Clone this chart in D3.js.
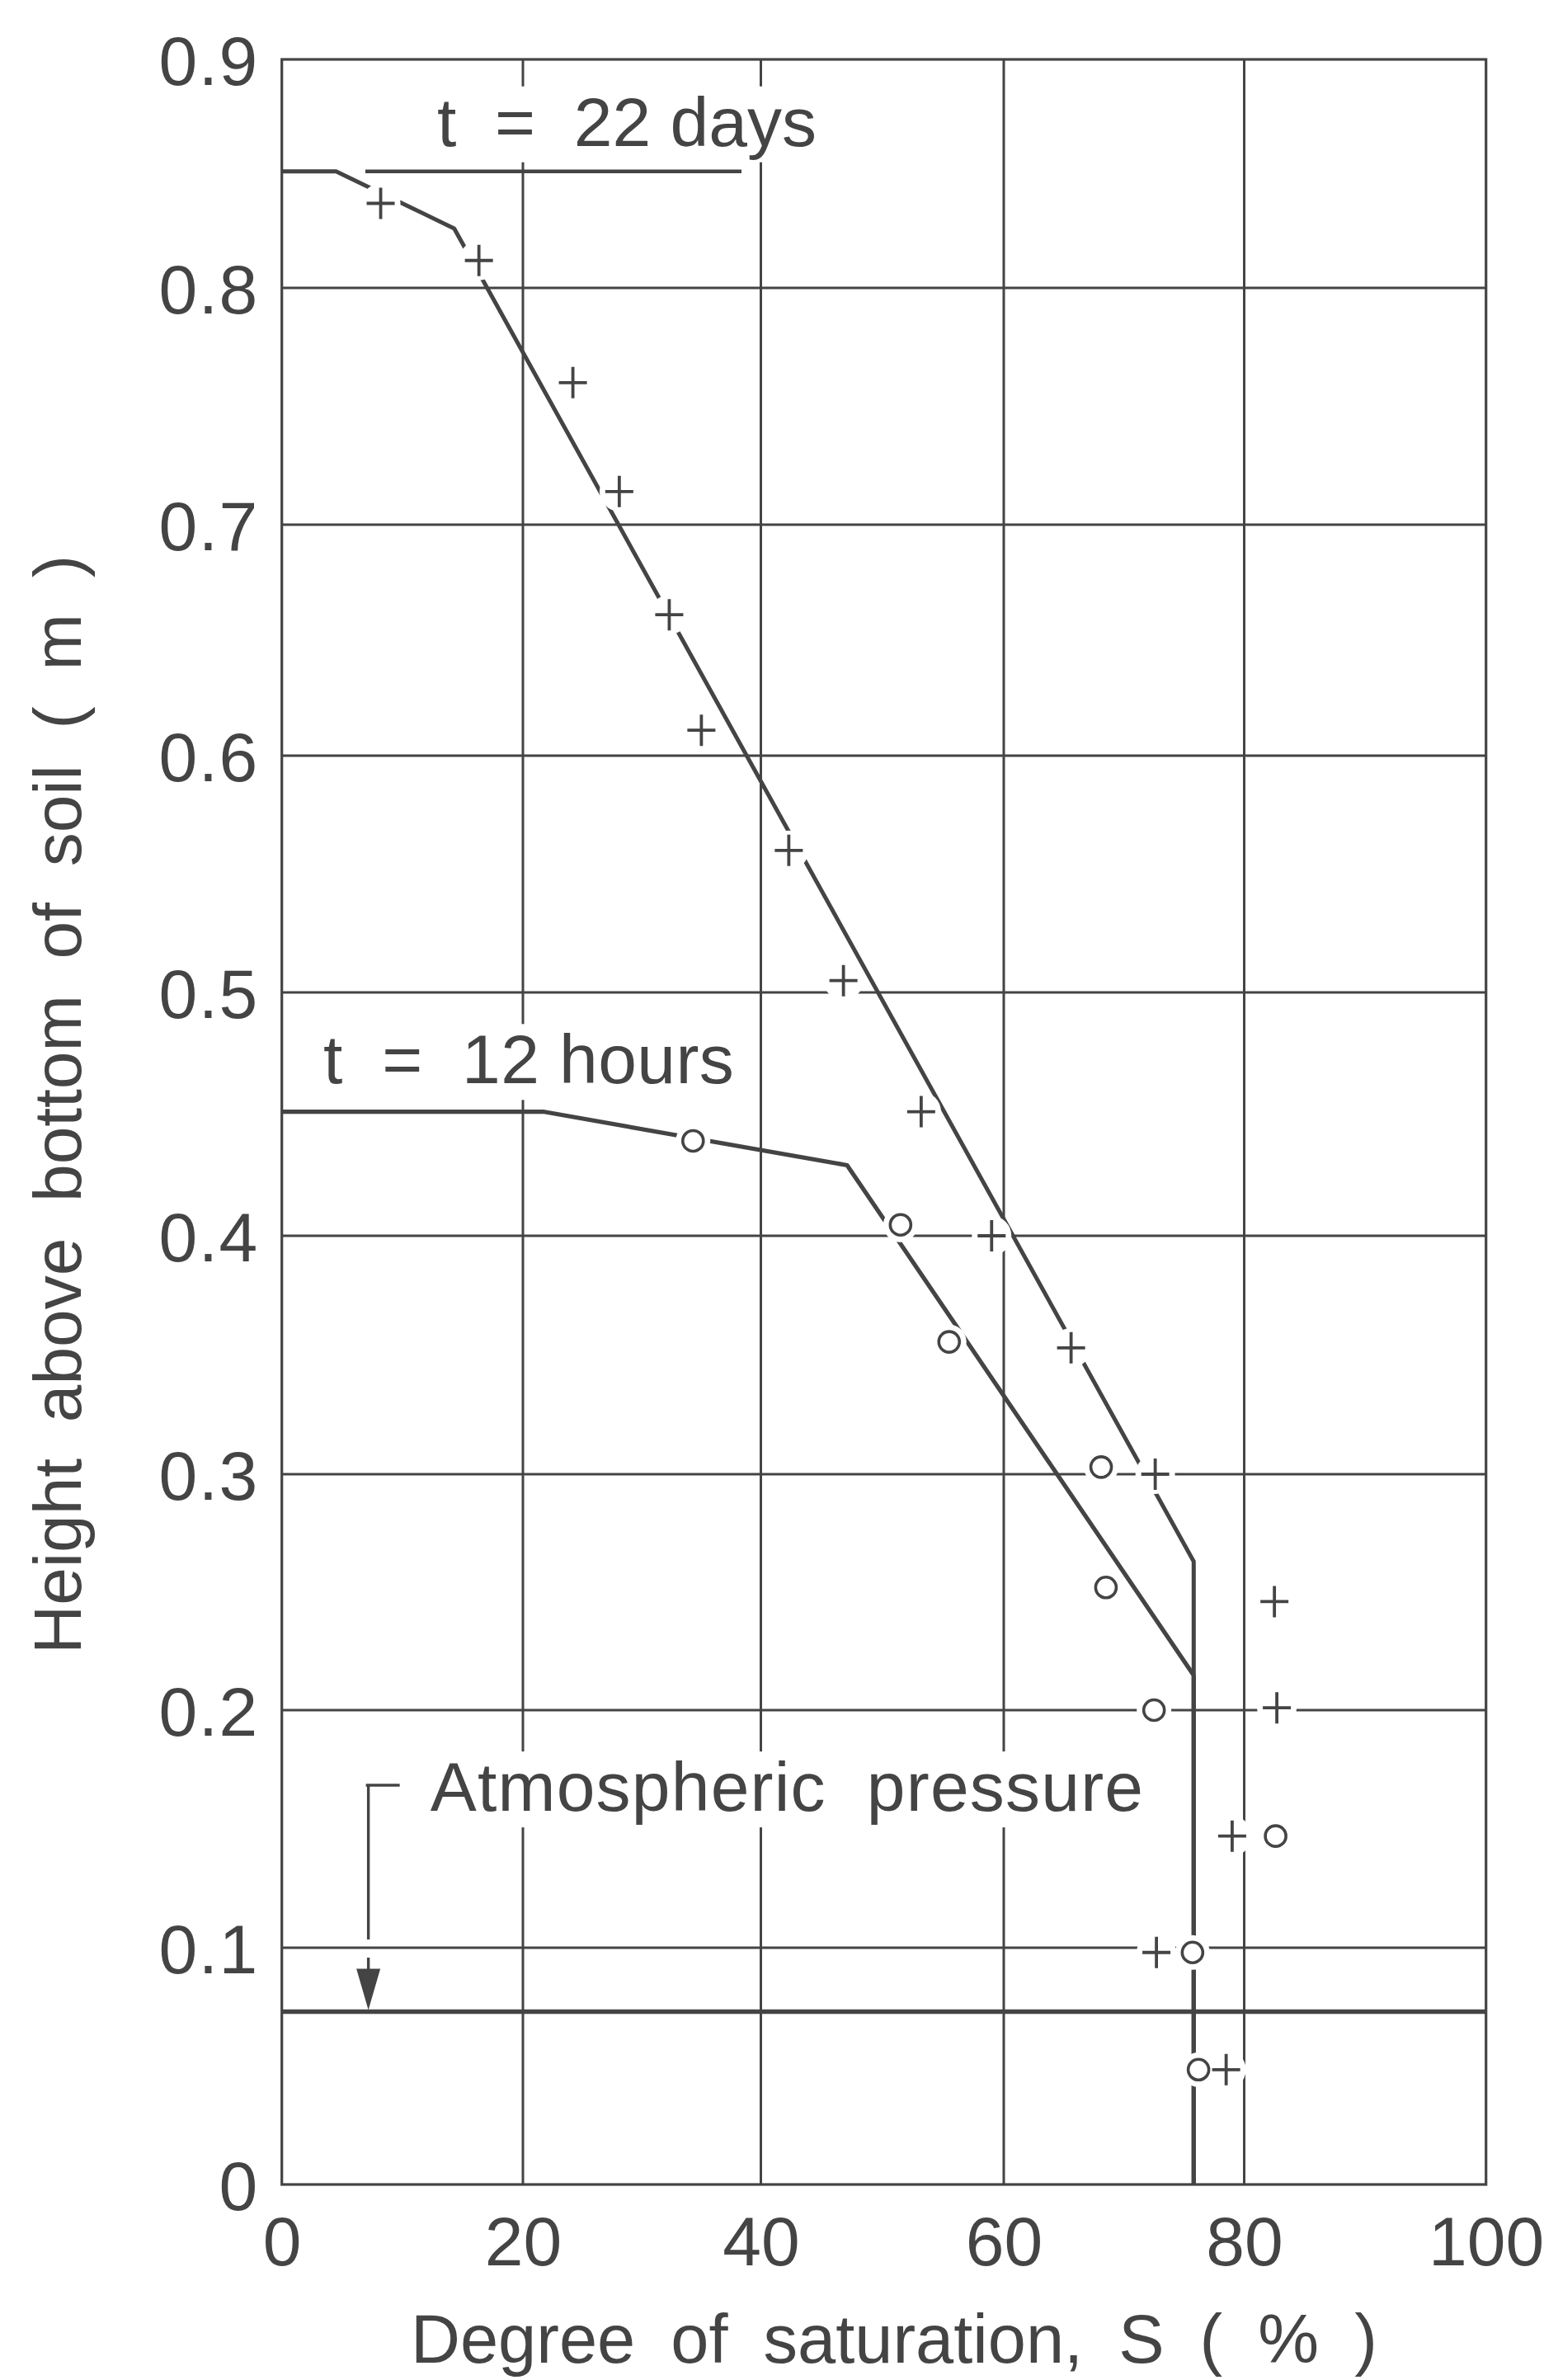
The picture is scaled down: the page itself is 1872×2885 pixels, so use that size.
<!DOCTYPE html>
<html><head><meta charset="utf-8">
<script src="https://cdn.jsdelivr.net/npm/d3@7"></script>
<style>
html,body{margin:0;padding:0;background:#fff;}
svg{display:block;}
text{font-family:"Liberation Sans", Arial, Helvetica, sans-serif; fill:#444;}
</style></head><body>
<svg id="chart" width="1872" height="2885"></svg>
<script>
// ---------- data ----------
const xTicks = [0, 20, 40, 60, 80, 100];
const xTickLabels = ["0", "20", "40", "60", "80", "100"];
const yTicks = [0, 0.1, 0.2, 0.3, 0.4, 0.5, 0.6, 0.7, 0.8, 0.9];
const yTickLabels = ["0", "0.1", "0.2", "0.3", "0.4", "0.5", "0.6", "0.7", "0.8", "0.9"];

// t = 22 days : measured points (+)
const days22S = [8.2, 16.35, 24.2, 28.1, 32.3, 35.0, 42.3, 46.8, 53.2, 59.0, 65.6, 72.6, 82.5, 82.7, 79.0, 72.7, 78.5];
const days22H = [0.837, 0.812, 0.760, 0.714, 0.661, 0.611, 0.560, 0.505, 0.451, 0.400, 0.353, 0.300, 0.246, 0.201, 0.147, 0.098, 0.0485];
// t = 22 days : fitted curve
const curve22S = [0, 4.5, 14.3, 75.8, 75.8];
const curve22H = [0.851, 0.851, 0.826, 0.263, 0];

// t = 12 hours : measured points (o)
const hours12S = [34.3, 51.5, 55.5, 68.1, 68.5, 72.5, 82.6, 75.7, 76.2];
const hours12H = [0.439, 0.4045, 0.3555, 0.303, 0.252, 0.200, 0.147, 0.098, 0.0485];
// t = 12 hours : fitted curve
const curve12S = [0, 21.7, 47.1, 75.8, 75.8];
const curve12H = [0.451, 0.451, 0.429, 0.2148, 0];

// atmospheric pressure level (m)
const atmosphericH = 0.073;

// annotations (data units)
const labelTexts = ["t  =  22 days", "t  =  12 hours", "Atmospheric  pressure"];
const labelS = [12.88, 3.44, 12.32];
const labelH = [0.8622, 0.4626, 0.1576];
const underlineS = [6.93, 38.37];
const underlineH = 0.851;
const arrowS = 7.18;
const arrowTopH = 0.1684;
const bracketEndS = 9.78;

const xTitle = "Degree of saturation, S ( % )";
const yTitle = "Height above bottom of soil ( m )";

// ---------- layout ----------
const INK = "#444";
const svg = d3.select("#chart");
// piecewise scales follow the (slightly uneven) grid of the original drawing
const x = d3.scaleLinear().domain(xTicks).range([341.7, 634, 922.5, 1217, 1508.5, 1801.7]);
const y = d3.scaleLinear().domain(yTicks).range([2648, 2361, 2073, 1787, 1498, 1203, 916, 636, 349, 72]);

const g = svg.append("g");

// gridlines
g.selectAll("line.gx").data(xTicks.slice(1, -1)).join("line")
  .attr("x1", d => x(d)).attr("x2", d => x(d))
  .attr("y1", y(0)).attr("y2", y(0.9))
  .attr("stroke", INK).attr("stroke-width", 3);
g.selectAll("line.gy").data(yTicks.slice(1, -1)).join("line")
  .attr("y1", d => y(d)).attr("y2", d => y(d))
  .attr("x1", x(0)).attr("x2", x(100))
  .attr("stroke", INK).attr("stroke-width", 3);

// atmospheric line
g.append("line")
  .attr("x1", x(0)).attr("x2", x(100))
  .attr("y1", y(atmosphericH)).attr("y2", y(atmosphericH))
  .attr("stroke", INK).attr("stroke-width", 5.5);

// curves
const line = d3.line().x(d => x(d[0])).y(d => y(d[1]));
g.append("path").attr("d", line(d3.zip(curve22S, curve22H)))
  .attr("fill", "none").attr("stroke", INK).attr("stroke-width", 5).attr("stroke-linejoin", "round");
g.append("path").attr("d", line(d3.zip(curve12S, curve12H)))
  .attr("fill", "none").attr("stroke", INK).attr("stroke-width", 5.2).attr("stroke-linejoin", "round");

// underline of 22 days label
g.append("line")
  .attr("x1", x(underlineS[0])).attr("x2", x(underlineS[1]))
  .attr("y1", y(underlineH)).attr("y2", y(underlineH))
  .attr("stroke", INK).attr("stroke-width", 4.5);

// arrow bracket for atmospheric pressure
const ax = x(arrowS), aTop = y(arrowTopH), aTip = y(atmosphericH) - 2, headH = 50, headW = 14.5;
g.append("line").attr("x1", ax - 3).attr("x2", x(bracketEndS)).attr("y1", aTop).attr("y2", aTop)
  .attr("stroke", INK).attr("stroke-width", 3.4);
g.append("line").attr("x1", ax).attr("x2", ax).attr("y1", aTop).attr("y2", y(0.1) - 10)
  .attr("stroke", INK).attr("stroke-width", 3.4);
g.append("line").attr("x1", ax).attr("x2", ax).attr("y1", y(0.1) + 12).attr("y2", aTip - headH + 2)
  .attr("stroke", INK).attr("stroke-width", 3.4);
g.append("path")
  .attr("d", `M${ax},${aTip}L${ax - headW},${aTip - headH}L${ax + headW},${aTip - headH}Z`)
  .attr("fill", INK);

// border
g.append("rect").attr("x", x(0)).attr("y", y(0.9))
  .attr("width", x(100) - x(0)).attr("height", y(0) - y(0.9))
  .attr("fill", "none").attr("stroke", INK).attr("stroke-width", 3.2);

// annotation labels with white background
const labelSpacing = ["0px", "0.4px", "1.2px"];
labelTexts.forEach((t, i) => {
  const lg = g.append("g");
  const bg = lg.append("rect").attr("fill", "#fff");
  const tx = lg.append("text")
    .attr("x", x(labelS[i])).attr("y", y(labelH[i]))
    .attr("font-size", 84)
    .style("letter-spacing", labelSpacing[i])
    .style("white-space", "pre")
    .attr("xml:space", "preserve")
    .text(t);
  const b = tx.node().getBBox();
  bg.attr("x", b.x - 14).attr("y", b.y + 4).attr("width", b.width + 28).attr("height", b.height - 2);
});

// marker halos
const days = d3.zip(days22S, days22H);
const hours = d3.zip(hours12S, hours12H);
g.selectAll("circle.hp").data(days).join("circle")
  .attr("cx", d => x(d[0])).attr("cy", d => y(d[1])).attr("r", 24).attr("fill", "#fff");
g.selectAll("circle.hc").data(hours).join("circle")
  .attr("cx", d => x(d[0])).attr("cy", d => y(d[1])).attr("r", 21).attr("fill", "#fff");

// markers
g.selectAll("path.plus").data(days).join("path")
  .attr("transform", d => `translate(${x(d[0])},${y(d[1])})`)
  .attr("d", "M-17,0H17M0,-19V19")
  .attr("stroke", INK).attr("stroke-width", 3.8).attr("fill", "none");
g.selectAll("circle.o").data(hours).join("circle")
  .attr("cx", d => x(d[0])).attr("cy", d => y(d[1])).attr("r", 12.5)
  .attr("fill", "#fff").attr("stroke", INK).attr("stroke-width", 3.6);

// axes (tick labels)
const yAxis = d3.axisLeft(y).tickValues(yTicks).tickFormat((d, i) => yTickLabels[i]).tickSize(0).tickPadding(28);
const xAxis = d3.axisBottom(x).tickValues(xTicks).tickFormat((d, i) => xTickLabels[i]).tickSize(0).tickPadding(38);
const ya = svg.append("g").attr("transform", `translate(${x(0)},0)`).call(yAxis);
const xa = svg.append("g").attr("transform", `translate(0,${y(0)})`).call(xAxis);
[ya, xa].forEach(a => {
  a.select(".domain").remove();
  a.selectAll("text").attr("font-size", 84).attr("fill", INK)
    .attr("font-family", '"Liberation Sans", Arial, sans-serif');
});
ya.selectAll("text").attr("dy", "0.36em").style("letter-spacing", "1.5px");

// axis titles
svg.append("text").attr("x", 498).attr("y", 2864)
  .attr("font-size", 83).style("word-spacing", "20px").text(xTitle);
svg.append("text").attr("transform", "translate(98,1339) rotate(-90)")
  .attr("text-anchor", "middle").attr("font-size", 82).style("word-spacing", "21px").text(yTitle);
</script>
</body></html>
